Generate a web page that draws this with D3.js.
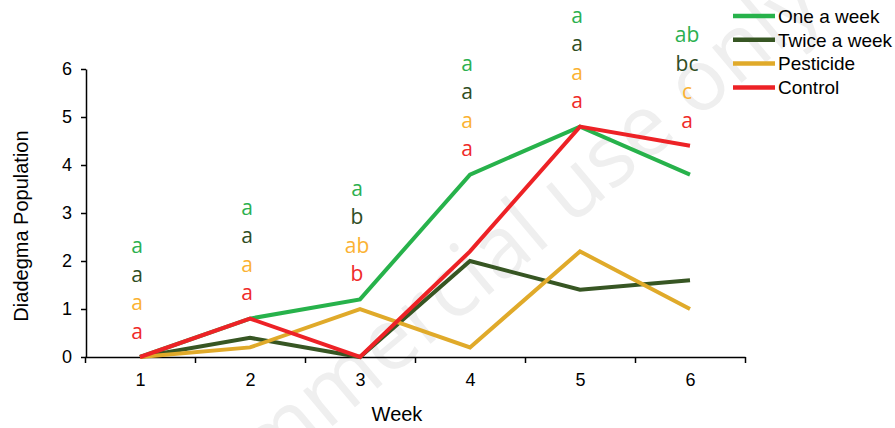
<!DOCTYPE html>
<html>
<head>
<meta charset="utf-8">
<script src="https://cdn.jsdelivr.net/npm/d3@7"></script>
<style>
  body { margin: 0; background: #fff; }
  svg text { font-family: "Liberation Sans", Arial, sans-serif; }
</style>
</head>
<body>
<svg id="chart" width="895" height="428"></svg>
<script>
// data
var weeks = [1, 2, 3, 4, 5, 6];
var seriesNames = ['One a week', 'Twice a week', 'Pesticide', 'Control'];
var oneAWeek = [0, 0.8, 1.2, 3.8, 4.8, 3.8];
var twiceAWeek = [0, 0.4, 0, 2.0, 1.4, 1.6];
var pesticide = [0, 0.2, 1.0, 0.2, 2.2, 1.0];
var control = [0, 0.8, 0, 2.2, 4.8, 4.4];
// significance letters, one row per series
var lettersOne = ['a', 'a', 'a', 'a', 'a', 'ab'];
var lettersTwice = ['a', 'a', 'b', 'a', 'a', 'bc'];
var lettersPest = ['a', 'a', 'ab', 'a', 'a', 'c'];
var lettersControl = ['a', 'a', 'b', 'a', 'a', 'a'];
var yTicks = [0, 1, 2, 3, 4, 5, 6];

var lineColors = ['#27b24b', '#375623', '#e0aa2a', '#ed2226'];
var letterColors = ['#2bb04f', '#2f4d1f', '#fbb233', '#ef2a2a'];

var values = [oneAWeek, twiceAWeek, pesticide, control];
var letters = [lettersOne, lettersTwice, lettersPest, lettersControl];

var svg = d3.select('#chart');

var x = d3.scaleLinear().domain([0.5, 6.5]).range([85, 745]);
var y = d3.scaleLinear().domain([0, 6]).range([357, 69]);

// watermark, under everything
svg.append('text')
  .attr('transform', 'translate(826,12) rotate(-40)')
  .attr('text-anchor', 'end')
  .style('font-family', '"Open Sans", sans-serif')
  .style('font-size', '86px')
  .attr('fill', '#efefef')
  .text('For non-commercial use only');

// y axis
var yAxis = svg.append('g')
  .attr('transform', 'translate(86,0)')
  .call(d3.axisLeft(y).tickValues(yTicks).tickFormat(d3.format('d'))
    .tickSize(5).tickPadding(9).tickSizeOuter(0));
yAxis.selectAll('text').style('font-size', '18px').attr('fill', '#000');

// x axis: tick marks between categories, labels at categories
var xAxis = svg.append('g')
  .attr('transform', 'translate(0,357)')
  .call(d3.axisBottom(x).tickValues(d3.range(0.5, 7, 1)).tickFormat('').tickSize(6).tickSizeOuter(0));
var xLabels = svg.append('g')
  .attr('transform', 'translate(0,357)')
  .call(d3.axisBottom(x).tickValues(weeks).tickFormat(d3.format('d')).tickSize(0).tickPadding(16));
xLabels.select('.domain').remove();
xLabels.selectAll('text').style('font-size', '18px').attr('fill', '#000');
svg.selectAll('.domain, .tick line').attr('stroke', '#000').attr('stroke-width', 1.5);

// titles
svg.append('text')
  .attr('x', 397).attr('y', 421)
  .attr('text-anchor', 'middle')
  .style('font-size', '20px')
  .text('Week');
svg.append('text')
  .attr('transform', 'translate(28,226) rotate(-90)')
  .attr('text-anchor', 'middle')
  .style('font-size', '20px')
  .text('Diadegma Population');

// lines
var line = d3.line()
  .x(function (d, i) { return x(weeks[i]); })
  .y(function (d) { return y(d); });

svg.append('g').selectAll('path')
  .data(values)
  .join('path')
  .attr('d', line)
  .attr('fill', 'none')
  .attr('stroke', function (d, i) { return lineColors[i]; })
  .attr('stroke-width', 4)
  .attr('stroke-linejoin', 'miter');

// letter stacks above the highest point of each week
var rowGap = 28.5;
weeks.forEach(function (w, j) {
  var top = d3.max(values, function (s) { return s[j]; });
  var base = y(top) - 24;
  letters.forEach(function (row, i) {
    svg.append('text')
      .attr('x', x(w) - 3)
      .attr('y', base - (letters.length - 1 - i) * rowGap)
      .attr('dy', '0.28em')
      .attr('text-anchor', 'middle')
      .style('font-family', '"Open Sans", sans-serif')
      .style('font-size', '21px')
      .attr('fill', letterColors[i])
      .text(row[j]);
  });
});

// legend
var legend = svg.append('g').selectAll('g')
  .data(seriesNames)
  .join('g')
  .attr('transform', function (d, i) { return 'translate(733,' + (16 + i * 23.8) + ')'; });
legend.append('line')
  .attr('x1', 0).attr('x2', 42)
  .attr('stroke', function (d, i) { return lineColors[i]; })
  .attr('stroke-width', 4.5);
legend.append('text')
  .attr('x', 45).attr('dy', '0.36em')
  .style('font-size', '19px')
  .text(function (d) { return d; });
</script>
</body>
</html>
